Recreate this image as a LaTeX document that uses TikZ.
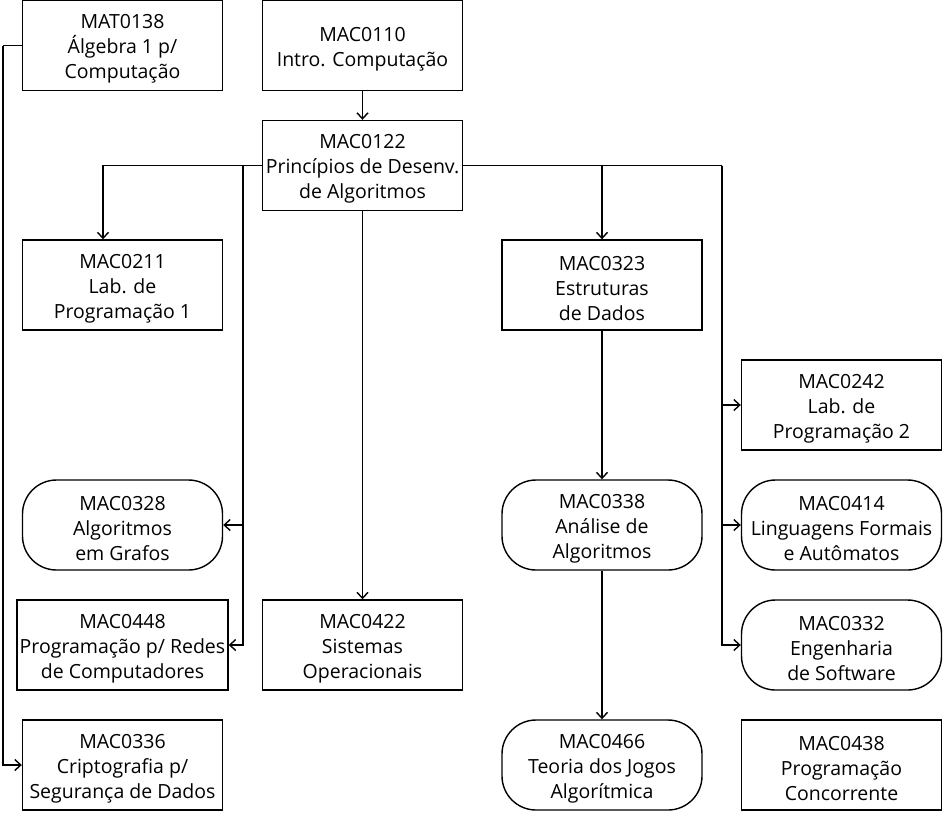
\documentclass[tikz,border=0pt]{standalone}
\usepackage{fontspec}
\setmainfont{Open Sans}
\usetikzlibrary{arrows.meta}
\newcommand\tstrut{\rule{0pt}{21pt}}
\begin{document}
\begin{tikzpicture}[x=1pt,y=-1pt,
  box/.style={draw, line width=1.4pt, minimum width=200pt, minimum height=90pt, inner sep=0pt, align=center, font=\fontsize{19.5}{25}\selectfont},
  pill/.style={box, rounded corners=34pt},
  link/.style={line width=1.4pt},
  arr/.style={link, -{Straight Barb[length=6pt,width=11pt,line width=1.4pt]}}]
\useasboundingbox (0,0) rectangle (952,812);
\node[box] (MAT0138) at (122.5,45.5) {\tstrut MAT0138\\Álgebra 1 p/\\Computação};
\node[box] (MAC0110) at (362.5,45.5) {\tstrut MAC0110\\Intro. Computação};
\node[box] (MAC0122) at (362.5,165.5) {\tstrut MAC0122\\Princípios de Desenv.\\de Algoritmos};
\node[box] (MAC0211) at (122.5,285) {\tstrut MAC0211\\Lab. de\\Programação 1};
\node[box] (MAC0323) at (602,285) {\tstrut MAC0323\\Estruturas\\de Dados};
\node[box] (MAC0242) at (841.5,405) {\tstrut MAC0242\\Lab. de\\Programação 2};
\node[pill] (MAC0328) at (122.5,525) {\tstrut MAC0328\\Algoritmos\\em Grafos};
\node[pill] (MAC0338) at (602,525) {\tstrut MAC0338\\Análise de\\Algoritmos};
\node[pill] (MAC0414) at (841.5,525) {\tstrut MAC0414\\Linguagens Formais\\e Autômatos};
\node[box, minimum width=211pt] (MAC0448) at (122.5,645) {\tstrut MAC0448\\Programação p/ Redes\\de Computadores};
\node[box] (MAC0422) at (362.5,645) {\tstrut MAC0422\\Sistemas\\Operacionais};
\node[pill] (MAC0332) at (841.5,645) {\tstrut MAC0332\\Engenharia\\de Software};
\node[box] (MAC0336) at (122.5,765) {\tstrut MAC0336\\Criptografia p/\\Segurança de Dados};
\node[pill] (MAC0466) at (602,765) {\tstrut MAC0466\\Teoria dos Jogos\\Algorítmica};
\node[box] (MAC0438) at (841.5,765) {\tstrut MAC0438\\Programação\\Concorrente};

\coordinate (jl) at (243,165.5);
\coordinate (jr) at (722,165.5);
\coordinate (ml) at (3,45.5);

\draw[arr] (MAC0110) -- (MAC0122);
\draw[link] (MAT0138.west) -- (ml);
\draw[arr] (ml) |- (MAC0336.west);
\draw[arr] (MAC0122.west) -| ([xshift=-19.5pt]MAC0211.north);
\draw[arr] (jl) |- (MAC0328.east);
\draw[arr] (jl) |- (MAC0448.east);
\draw[arr] (MAC0122) -- (MAC0422);
\draw[arr] (MAC0122.east) -| (MAC0323.north);
\draw[link] (MAC0122.east) -- (jr);
\draw[arr] (jr) |- (MAC0242.west);
\draw[arr] (jr) |- (MAC0414.west);
\draw[arr] (jr) |- (MAC0332.west);
\draw[arr] (MAC0323) -- (MAC0338);
\draw[arr] (MAC0338) -- (MAC0466);
\end{tikzpicture}
\end{document}
